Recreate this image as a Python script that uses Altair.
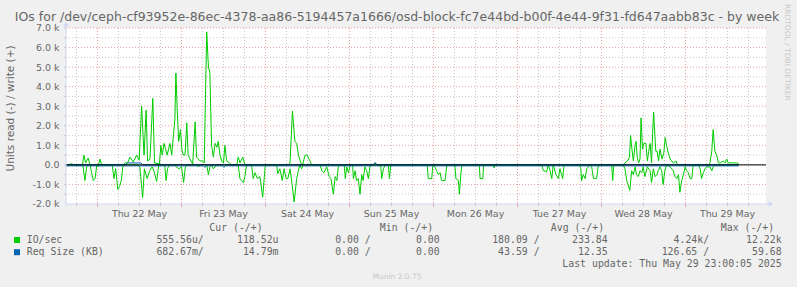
import altair as alt
import pandas as pd

# ---------------- values ----------------
# hours counted from Wed 21 May 00:00 ; IO/sec values in thousands
write_h = [15, 16.6, 17.5, 19.7, 20.1, 20.6, 21.3, 21.9, 24.3, 24.7, 25.2, 31.3, 31.9, 32.6, 33.3, 34.2,
           35.2, 35.9, 36.6, 37.3, 37.9, 38.3, 39.0, 39.8, 40.3, 41.7, 42.1, 42.5, 43.0, 43.9, 44.7,
           45.2, 45.7, 46.1, 46.4, 46.8, 47.2, 47.7, 48.1, 48.5, 49.0, 49.5, 49.9, 50.4, 51.2, 51.9,
           52.3, 53.3, 54.0, 54.5, 55.2, 55.7, 56.1, 56.6, 57.1, 57.6, 58.1, 58.5, 59.0, 59.5, 60.0,
           60.4, 60.9, 61.7, 62.3, 63.8, 64.2, 64.7, 65.5, 66.1, 78.5, 79.0, 79.7, 80.4, 80.9, 81.4,
           82.1, 82.6, 83.3, 83.9, 84.7, 85.2, 102.8, 103.3, 103.8, 174.2, 174.7, 175.4, 176.0, 176.3,
           176.7, 177.1, 177.6, 177.9, 178.2, 178.6, 179.0, 179.3, 179.7, 180.1, 180.7, 181.1, 181.5,
           181.9, 182.3, 182.6, 182.9, 183.5, 183.9, 184.3, 184.7, 185.3, 185.8, 186.2, 186.6, 187.1,
           187.6, 188.1, 188.5, 189.3, 189.7, 198.6, 199.0, 199.5, 199.9, 200.4, 200.9, 201.4, 201.9,
           202.8, 203.3, 203.8, 204.2, 204.7, 205.7, 206.6, 207.2]
write_k = [0, 0.05, 0, 0, 0.5, 0.1, 0.35, 0, 0, 0.3, 0, 0, 0.1, 0.1, 0.4, 0.15,
           0.5, 0.25, 3.0, 0.5, 2.8, 0.2, 0.3, 3.4, 0.1, 0.05, 1.0, 0.5, 1.1, 0.5, 1.1,
           0.5, 1.5, 2.3, 4.7, 2.7, 1.2, 1.8, 0.8, 0.5, 0.5, 2.15, 0.5, 0.3, 0.05, 2.2,
           0.4, 0.2, 0.2, 0.1, 6.8, 5.0, 4.7, 1.0, 0.4, 1.1, 0.9, 1.2, 0.5, 0.2, 0.1,
           1.0, 0.2, 0.1, 0, 0, 0.4, 0.1, 0.4, 0, 0, 0.1, 2.75, 1.2, 1.1, 0.5,
           0.1, 0, 0.5, 0.5, 0.2, 0, 0, 0.1, 0, 0, 0.1, 0.2, 0.4, 1.5,
           0.8, 0.2, 1.0, 1.2, 0.4, 0.1, 0.3, 2.4, 0.8, 1.1, 1.1, 0.2, 0.7,
           1.1, 0.1, 1.6, 2.7, 0.7, 0.7, 0.2, 0.8, 0.3, 0.6, 1.4, 1.0, 0.6,
           0.3, 0.2, 0.1, 0.2, 0, 0, 0.1, 0.7, 1.8, 0.7, 0.5, 0.1, 0.1,
           0.2, 0.1, 0.3, 0.1, 0.1, 0.1, 0.1, 0.05]

read_h = [15, 19.8, 20.4, 20.9, 21.5, 21.9, 22.3, 22.8, 23.3, 23.8, 24.2, 24.7, 28.2, 28.7, 29.2, 29.8,
          30.3, 30.8, 31.3, 35.6, 36.1, 36.9, 37.4, 38.2, 38.9, 39.6, 40.2, 40.9, 41.5, 43.2, 43.6,
          44.0, 44.5, 46.0, 46.5, 47.3, 48.0, 48.6, 49.1, 49.6, 52.3, 52.8, 53.3, 55.2, 55.7, 56.1,
          56.6, 57.1, 57.6, 58.0, 64.2, 64.7, 65.2, 65.7, 66.1, 66.6, 68.0, 68.5, 69.0, 69.7, 70.4,
          71.2, 71.9, 72.3, 75.2, 75.5, 76.1, 76.8, 77.3, 77.9, 78.4, 79.0, 79.6, 80.2, 80.9, 81.4,
          81.8, 82.3, 82.8, 87.6, 88.1, 88.7, 89.5, 90.2, 90.7, 91.4, 91.9, 92.4, 92.8, 93.3, 94.5,
          94.8, 95.2, 95.7, 96.2, 96.9, 97.1, 97.6, 98.0, 98.5, 99.0, 99.5, 99.9, 100.4, 100.9, 101.4,
          101.9, 104.9, 105.2, 105.7, 106.2, 107.1, 107.4, 107.8, 118.2, 118.5, 119.5, 119.8, 120.4,
          120.9, 121.4, 121.9, 122.3, 123.3, 123.8, 126.1, 126.4, 127.1, 127.4, 127.8, 128.1, 133.1,
          133.3, 134.1, 134.3, 137.0, 137.3, 137.6, 150.9, 151.4, 152.3, 152.8, 153.3, 153.8, 154.2,
          155.0, 155.7, 156.1, 156.9, 157.3, 161.7, 162.1, 162.3, 162.8, 163.3, 163.8, 164.7, 165.2,
          165.7, 166.6, 167.1, 170.9, 171.2, 171.5, 174.2, 174.7, 175.2, 175.6, 176.1, 176.6, 177.1,
          177.6, 178.0, 178.5, 179.0, 179.5, 179.9, 180.4, 181.1, 181.9, 182.3, 182.8, 183.3, 183.8,
          184.2, 184.7, 185.2, 185.6, 186.1, 186.6, 187.6, 188.5, 189.0, 189.5, 190.0, 190.4, 190.9,
          191.4, 191.9, 192.3, 192.8, 193.3, 193.8, 194.2, 195.7, 196.2, 196.6, 197.1, 197.6, 198.1,
          199.0, 199.5, 199.9, 200.4, 207.2]
read_k = [0, 0, -0.8, -0.1, 0, 0, -0.4, -0.8, -0.7, 0, -0.1, 0, 0, -0.7, -0.2, -1.25,
          -1.1, -0.8, 0, 0, -0.1, -1.67, -0.2, -0.7, -0.3, -0.1, -0.35, -0.85, 0, 0, -0.8,
          -0.2, 0, 0, -0.1, -0.2, -0.1, -0.9, -0.1, 0, 0, -0.1, 0, 0, -0.5, -0.1,
          0, -0.2, -0.1, 0, 0, -0.7, -0.8, -0.9, -0.6, 0, 0, -0.7, -0.4, -0.7, -0.6,
          -1.65, -0.1, 0, 0, -0.45, -0.2, -0.8, -0.2, -0.7, -0.7, -0.2, -1.0, -1.9, -0.7, -0.3,
          0, -0.2, 0, 0, -0.3, -0.4, -0.1, -0.6, -0.7, -1.5, -0.6, -0.8, -0.1, 0, 0,
          -0.7, -0.1, -0.4, 0, 0, -0.7, -0.3, -0.8, -0.7, -1.5, -0.5, -0.8, -0.1, -0.3, -0.7,
          0, 0, -0.7, -0.2, 0, 0, -0.7, 0, 0, -0.7, -0.7, 0, -0.1,
          -0.3, -0.5, -0.4, -0.8, -0.8, 0, 0, -0.7, -0.8, -1.5, -0.5, 0, 0,
          -0.7, -0.7, 0, 0, -0.15, 0, 0, -0.3, -0.35, 0, -0.3, -0.7, 0,
          -0.5, -0.7, -0.2, -0.7, 0, 0, -0.2, -0.8, -0.5, -0.7, -0.2, 0, -0.1,
          -0.7, -0.7, 0, 0, -0.8, 0, 0, -0.2, -0.8, -1.0, -1.3, -0.3, -0.5,
          -0.1, -0.5, -0.6, -0.3, -0.4, -0.1, -0.6, -0.1, -0.3, -0.9, -0.2, -0.6, -0.5,
          -0.3, -0.1, -0.3, -1.0, -0.3, 0, -0.1, -0.3, -0.6, -0.7, -0.5, -1.4, -0.8,
          -0.5, -0.1, -0.3, -0.4, -0.7, -0.7, 0, 0, -0.2, -0.7, -0.4, -0.2, -0.1,
          -0.1, -0.3, -0.1, 0, 0]

# Req Size (KB) in thousands (almost flat at zero)
req_write_h = [15, 32.0, 32.5, 36.4, 36.9, 102.8, 103.3, 103.8, 207.2]
req_write_k = [0.01, 0.01, 0.1, 0.1, 0.01, 0.01, 0.12, 0.01, 0.01]
req_read_h = [15, 54.3, 54.7, 55.1, 59.7, 60.1, 60.5, 207.2]
req_read_k = [-0.05, -0.05, -0.13, -0.05, -0.05, -0.13, -0.05, -0.05]

day_noon_h = [36, 60, 84, 108, 132, 156, 180, 204]
day_labels = ["Thu 22 May", "Fri 23 May", "Sat 24 May", "Sun 25 May",
              "Mon 26 May", "Tue 27 May", "Wed 28 May", "Thu 29 May"]
y_tick_vals = [-2, -1, 0, 1, 2, 3, 4, 5, 6, 7]
y_tick_labels = ["-2.0 k", "-1.0 k", "0.0", "1.0 k", "2.0 k", "3.0 k", "4.0 k", "5.0 k", "6.0 k", "7.0 k"]

title_text = "IOs for /dev/ceph-cf93952e-86ec-4378-aa86-5194457a1666/osd-block-fc7e44bd-b00f-4e44-9f31-fd647aabb83c - by week"
y_title = "Units read (-) / write (+)"
series_names = ["IO/sec", "Req Size (KB)"]
series_colors = ["#00cc00", "#0066b3"]
col_headers = ["Cur (-/+)", "Min (-/+)", "Avg (-/+)", "Max (-/+)"]
cur_read = ["555.56u/", "682.67m/"]
cur_write = ["118.52u", "14.79m"]
min_read = ["0.00 /", "0.00 /"]
min_write = ["0.00", "0.00"]
avg_read = ["180.09 /", "43.59 /"]
avg_write = ["233.84", "12.35"]
max_read = ["4.24k/", "126.65 /"]
max_write = ["12.22k", "59.68"]
last_update = "Last update: Thu May 29 23:00:05 2025"
munin_version = "Munin 2.0.75"
rrd_credit = "RRDTOOL / TOBI OETIKER"

# ---------------- layout ----------------
L, T = 66, 28          # plot-area origin in page pixels
W, H = 700, 176
def px(x):
    return x - L
def py(y):
    return y - T

FONT = "DejaVu Sans"
MONO = "DejaVu Sans Mono"
FC = "#666666"
AXC = "#cfd6f8"
GRID_MINOR = "#c8c8c8"
GRID_MAJOR = "#eaa0a0"

xs = alt.Scale(domain=[15, 215], nice=False, zero=False)
ys = alt.Scale(domain=[-2, 7], nice=False, zero=False)
X = lambda f="h": alt.X(f"{f}:Q", scale=xs, axis=None)
Y = lambda f="v": alt.Y(f"{f}:Q", scale=ys, axis=None)

minor_vh = [h for h in range(18, 211, 6) if h % 24 != 0]
major_vh = [h for h in range(24, 193, 24)]
minor_hv = [v + 0.5 for v in range(-2, 7)]
major_hv = list(range(-1, 8))

layers = []
# grid
layers.append(alt.Chart(pd.DataFrame({"h": minor_vh})).mark_rule(color=GRID_MINOR, strokeDash=[1, 2], strokeWidth=1).encode(x=X()))
layers.append(alt.Chart(pd.DataFrame({"v": minor_hv})).mark_rule(color=GRID_MINOR, strokeDash=[1, 2], strokeWidth=1).encode(y=Y()))
layers.append(alt.Chart(pd.DataFrame({"h": major_vh})).mark_rule(color=GRID_MAJOR, strokeDash=[1, 2], strokeWidth=1).encode(x=X()))
layers.append(alt.Chart(pd.DataFrame({"v": major_hv})).mark_rule(color=GRID_MAJOR, strokeDash=[1, 2], strokeWidth=1).encode(y=Y()))
# small ticks on axes
layers.append(alt.Chart(pd.DataFrame({"h": minor_vh})).mark_rule(color=GRID_MINOR, strokeWidth=1).encode(x=X(), y=alt.value(H - 1), y2=alt.value(H + 2)))
layers.append(alt.Chart(pd.DataFrame({"h": major_vh})).mark_rule(color=GRID_MAJOR, strokeWidth=1).encode(x=X(), y=alt.value(H - 1), y2=alt.value(H + 3)))
layers.append(alt.Chart(pd.DataFrame({"v": minor_hv + major_hv})).mark_rule(color=GRID_MINOR, strokeWidth=1).encode(y=Y(), x=alt.value(-2), x2=alt.value(0)))

# data lines
df_w = pd.DataFrame({"h": write_h, "v": write_k})
df_r = pd.DataFrame({"h": read_h, "v": read_k})
df_bw = pd.DataFrame({"h": req_write_h, "v": req_write_k})
df_br = pd.DataFrame({"h": req_read_h, "v": req_read_k})
layers.append(alt.Chart(df_w).mark_line(color=series_colors[0], strokeWidth=1).encode(x=X(), y=Y()))
layers.append(alt.Chart(df_r).mark_line(color=series_colors[0], strokeWidth=1).encode(x=X(), y=Y()))
layers.append(alt.Chart(df_bw).mark_line(color=series_colors[1], strokeWidth=1).encode(x=X(), y=Y()))
layers.append(alt.Chart(df_br).mark_line(color=series_colors[1], strokeWidth=1).encode(x=X(), y=Y()))
# zero line
layers.append(alt.Chart(pd.DataFrame({"v": [0]})).mark_rule(color="#000000", strokeWidth=1).encode(y=Y()))

# axes lines + arrows
layers.append(alt.Chart().mark_rule(color=AXC, strokeWidth=1).encode(x=alt.value(0), x2=alt.value(W + 3), y=alt.value(H)))
layers.append(alt.Chart().mark_rule(color=AXC, strokeWidth=1).encode(x=alt.value(0), y=alt.value(H), y2=alt.value(-3)))
layers.append(alt.Chart().mark_point(shape="triangle-right", filled=True, color=AXC, size=30, opacity=1).encode(x=alt.value(W + 5), y=alt.value(H)))
layers.append(alt.Chart().mark_point(shape="triangle-up", filled=True, color=AXC, size=30, opacity=1).encode(x=alt.value(0), y=alt.value(-4)))

# axis labels
layers.append(alt.Chart(pd.DataFrame({"h": day_noon_h, "t": day_labels})).mark_text(
    font=FONT, fontSize=9.45, color=FC, align="center", baseline="alphabetic").encode(
    x=X(), y=alt.value(py(216.5)), text="t:N"))
layers.append(alt.Chart(pd.DataFrame({"v": y_tick_vals, "t": y_tick_labels})).mark_text(
    font=FONT, fontSize=9.45, color=FC, align="right", baseline="alphabetic", dy=3.4).encode(
    y=Y(), x=alt.value(px(59.5)), text="t:N"))
layers.append(alt.Chart().mark_text(text=y_title, font=FONT, fontSize=10.5, color=FC, angle=270,
    align="center", baseline="middle").encode(x=alt.value(px(11)), y=alt.value(py(108.5))))

# title & watermarks
layers.append(alt.Chart().mark_text(text=title_text, font=FONT, fontSize=12.5, color=FC,
    align="center", baseline="alphabetic").encode(x=alt.value(px(397)), y=alt.value(py(20.5))))
layers.append(alt.Chart().mark_text(text=rrd_credit, font=FONT, fontSize=7.5, color="#c8c8c8", angle=90,
    align="left", baseline="middle").encode(x=alt.value(px(787)), y=alt.value(py(4))))
layers.append(alt.Chart().mark_text(text=munin_version, font=FONT, fontSize=7.5, color="#c8c8c8",
    align="center", baseline="alphabetic").encode(x=alt.value(px(397)), y=alt.value(py(279))))

# legend
head_x = [209.3, 379.8, 550.8, 720.8]
layers.append(alt.Chart(pd.DataFrame({"x": [px(v) for v in head_x], "t": col_headers})).mark_text(
    font=MONO, fontSize=9.85, color=FC, align="left", baseline="alphabetic").encode(
    x=alt.X("x:Q", scale=None), y=alt.value(py(231.2)), text="t:N"))
row_base = [242.8, 255.0]
for i in range(2):
    yb = py(row_base[i])
    layers.append(alt.Chart().mark_rect(color=series_colors[i]).encode(
        x=alt.value(px(14)), x2=alt.value(px(20)), y=alt.value(yb - 5.8), y2=alt.value(yb + 0.2)))
    layers.append(alt.Chart().mark_text(text=series_names[i], font=MONO, fontSize=9.85, color=FC,
        align="left", baseline="alphabetic").encode(x=alt.value(px(26.7)), y=alt.value(yb)))
    cols = [cur_read, cur_write, min_read, min_write, avg_read, avg_write, max_read, max_write]
    ends = [203.8, 278.5, 370.7, 439.7, 539.6, 607.6, 709.1, 781.6]
    for c, e in zip(cols, ends):
        layers.append(alt.Chart().mark_text(text=c[i], font=MONO, fontSize=9.85, color=FC,
            align="right", baseline="alphabetic").encode(x=alt.value(px(e)), y=alt.value(yb)))
layers.append(alt.Chart().mark_text(text=last_update, font=MONO, fontSize=9.85, color=FC,
    align="right", baseline="alphabetic").encode(x=alt.value(px(781.6)), y=alt.value(py(267.3))))

chart = alt.layer(*layers).properties(
    width=W, height=H,
    background="#f0f0f0",
    padding={"left": L, "top": T, "right": 797 - L - W, "bottom": 287 - T - H},
    autosize=alt.AutoSizeParams(type="none"),
).configure_view(stroke=None, fill="white")

chart.save("out.html", embed_options={"renderer": "svg", "actions": False})
